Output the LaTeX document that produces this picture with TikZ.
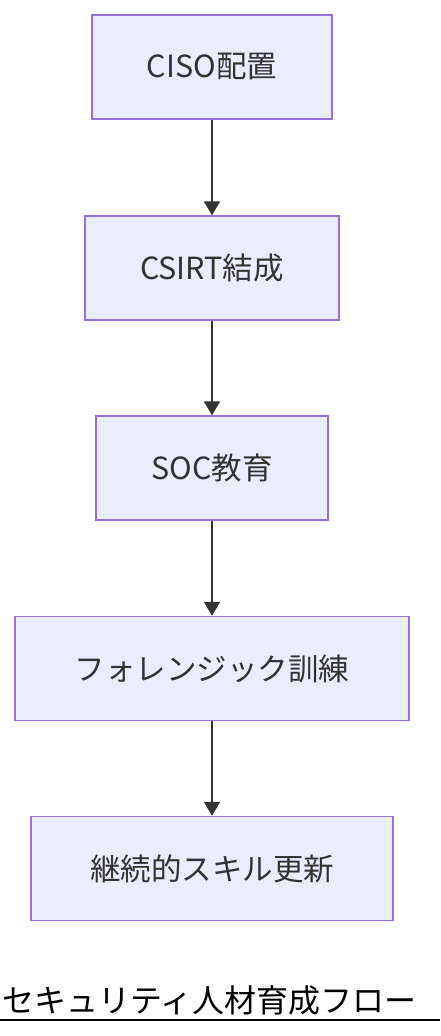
\documentclass[tikz,border=0pt]{standalone}
\usepackage{fontspec}
\newfontfamily\cjk{Noto Sans CJK JP}
\usetikzlibrary{positioning, arrows.meta}

\definecolor{boxfill}{HTML}{ECECFF}
\definecolor{boxline}{HTML}{9370DB}
\definecolor{darkline}{HTML}{333333}

\begin{document}
\begin{tikzpicture}[
        x=1pt, y=-1pt,
        >={Triangle[width=16pt, length=14pt]},
        step box/.style={rectangle, draw=boxline, fill=boxfill, line width=1.5pt,
            minimum height=104pt, inner sep=0pt, text=darkline,
            font=\cjk\fontsize{30.5}{34}\selectfont},
        flow/.style={->, draw=darkline, line width=2pt},
    ]

        % Fix the page size
        \useasboundingbox (0,0) rectangle (440,1036);

        % Draw the steps of the flow
        \foreach \name / \y / \w / \txt in {1/67/240/CISO配置, 2/268/254/CSIRT結成,
                3/468/232/SOC教育, 4/668.5/394/フォレンジック訓練, 5/868.5/362/継続的スキル更新}
            \node[step box, minimum width=\w pt] (S-\name) at (212,\y) {\txt};

        % Connect each step with the next one
        \foreach \source / \dest in {1/2, 2/3, 3/4, 4/5}
            \draw[flow] (S-\source) -- (S-\dest);

        % Title with its rule
        \node[anchor=base west, inner sep=0pt, font=\cjk\fontsize{32}{36}\selectfont] (title) at (2,1012) {セキュリティ人材育成フロー};
        \coordinate (rule-l) at (0,1020);
        \coordinate (rule-r) at (440,1020);
        \draw[line width=1.5pt] (rule-l) -- (rule-r);
\end{tikzpicture}
\end{document}
